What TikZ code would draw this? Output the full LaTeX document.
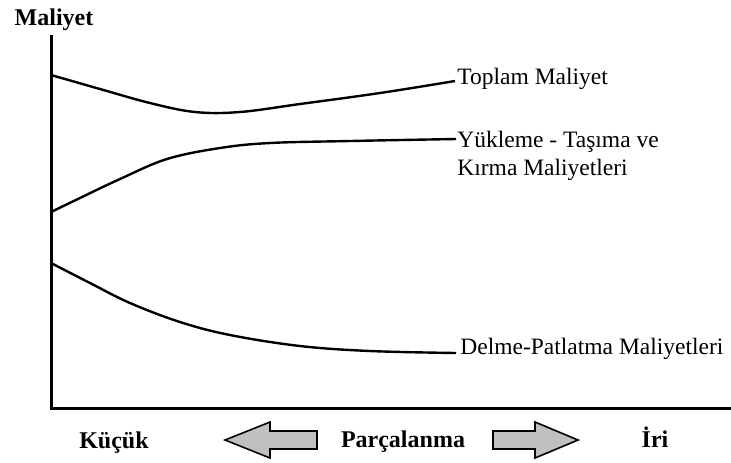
\documentclass[tikz,border=0pt]{standalone}
\usepackage{fontspec}
\setmainfont{Liberation Serif}
\usepackage{tikz}
\usetikzlibrary{positioning}
\definecolor{arrowgray}{RGB}{192,192,192}

\begin{document}
\begin{tikzpicture}[x=0.5pt,y=-0.5pt]
\tikzset{every node/.style={inner sep=0pt,font=\fontsize{11.75}{14}\selectfont},
  axis/.style={black,line width=1.5pt},
  cost/.style={black,line width=1.2pt},
  lbl/.style={anchor=base west,align=left},
  bold/.style={anchor=base,font=\fontsize{12}{14}\selectfont\bfseries},
  blockarrow/.style={draw=black,fill=arrowgray,line width=0.8pt,line join=miter}}
\useasboundingbox (0,0) rectangle (731,462);
% axes
\coordinate (O) at (51,408);
\coordinate (ytop) at (51,35);
\coordinate (xend) at (731,408);
\draw [axis] (ytop) -- (O) -- (xend);
\node [bold] (maliyet) at (54,25) {Maliyet};
% curve ends
\coordinate (tEnd) at (455,81);
\coordinate (yEnd) at (456,139);
\coordinate (dEnd) at (456,353);
\node [lbl] (toplam) at (457,84) {Toplam Maliyet};
\node [lbl] (yukleme) at (457,175) {Yükleme - Taşıma ve\\Kırma Maliyetleri};
\node [lbl] (delme) at (460,354) {Delme-Patlatma Maliyetleri};
% cost curves
\draw [cost] plot [smooth,tension=0.6] coordinates {(51,75) (100,89) (150,103) (195,112) (240,112) (300,104) (380,93) (tEnd)};
\draw [cost] plot [smooth,tension=0.6] coordinates {(51,212) (80,198) (120,179) (167,159) (220,148) (270,143) (350,141) (yEnd)};
\draw [cost] plot [smooth,tension=0.6] coordinates {(51,263) (90,283) (130,303) (180,322) (230,335) (300,346) (370,351) (dEnd)};
% bottom labels
\node [bold] (kucuk) at (114,448) {Küçük};
\node [bold] (parca) at (403,447) {Parçalanma};
\node [bold] (iri) at (655,447) {İri};
\draw [blockarrow] (225,440) -- (270,422) -- (270,431) -- (317,431) -- (317,449) -- (270,449) -- (270,458) -- cycle;
\draw [blockarrow] (578,440) -- (535,422) -- (535,431) -- (493,431) -- (493,449) -- (535,449) -- (535,458) -- cycle;
\end{tikzpicture}
\end{document}
